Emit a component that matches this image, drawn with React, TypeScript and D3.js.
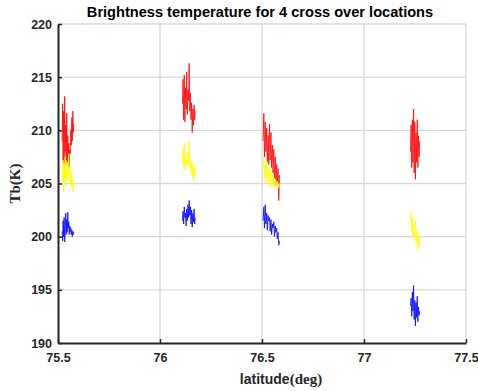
import React, { useEffect, useRef } from 'react';
import * as d3 from 'd3';

// x ticks and y ticks
const xTicks = [75.5, 76, 76.5, 77, 77.5];
const yTicks = [190, 195, 200, 205, 210, 215, 220];

// latitudes of the 4 cross over locations
const lat1 = [75.520, 75.523, 75.525, 75.528, 75.530, 75.533, 75.535, 75.538, 75.540, 75.543, 75.545, 75.548,
  75.550, 75.553, 75.555, 75.558, 75.560, 75.563, 75.565, 75.568, 75.570, 75.573, 75.575, 75.578];
const lat2 = [76.110, 76.113, 76.116, 76.119, 76.122, 76.125, 76.128, 76.131, 76.134, 76.137, 76.140,
  76.143, 76.146, 76.149, 76.152, 76.155, 76.158, 76.161, 76.164, 76.167, 76.170, 76.173];
const lat3 = [76.505, 76.509, 76.512, 76.516, 76.519, 76.523, 76.526, 76.530, 76.533, 76.537, 76.540, 76.544,
  76.547, 76.551, 76.554, 76.558, 76.561, 76.565, 76.568, 76.572, 76.575, 76.579, 76.582, 76.586];
const lat4 = [77.228, 77.231, 77.234, 77.237, 77.240, 77.243, 77.246, 77.249, 77.252, 77.255, 77.258,
  77.261, 77.264, 77.267, 77.270, 77.273];

// red channel
const red1 = [209, 212.5, 207, 211.8, 206.5, 213.2, 208, 210.5, 207.2, 211.6, 206.8, 209.5, 207.5, 208.8,
  206.5, 208.2, 207.8, 210, 208.6, 211.2, 209, 211.8, 209.8, 210.6];
const red2 = [212.5, 214.8, 211, 215.2, 210.8, 214, 212, 215.5, 211.5, 213.8, 212.8, 216.3, 211.8, 213.5,
  211, 212.6, 209.8, 212, 210.5, 212.4, 211, 211.8];
const red3 = [209, 211.6, 207.5, 210.8, 208, 210.2, 207, 209.5, 206.8, 210.6, 207.2, 209.8, 206.5, 208.6,
  206, 208.2, 205.5, 207.5, 204.8, 206.8, 205.2, 206.4, 203.4, 205.8];
const red4 = [208, 210.5, 206.5, 211, 207, 212, 206, 210.8, 205.4, 209.8, 207, 211, 206.5, 209.5, 207.5, 209];

// yellow channel
const yel1 = [206.5, 205, 207.2, 204.3, 206.8, 205.5, 207.5, 204.8, 206.2, 205.6, 207, 205.2, 206.4, 207.8,
  205.8, 206.6, 205, 206.2, 204.8, 205.8, 204.6, 205.4, 204.2, 205];
const yel2 = [207, 208.4, 206.5, 208.8, 206.2, 207.6, 206.8, 207.2, 206.6, 208, 207, 209, 206.5, 207.4,
  206, 206.8, 205.6, 207, 205.2, 206.5, 205.6, 206.4];
const yel3 = [206.5, 207.4, 205.5, 206.8, 205, 207.2, 205.6, 206.4, 204.8, 206.5, 205.2, 206.2, 204.6, 205.8,
  205, 205.6, 204.4, 205.4, 204.8, 205.2, 204.5, 205, 204.6, 205];
const yel4 = [201.5, 202.3, 200.5, 201.8, 200, 201.2, 199.8, 200.8, 201.5, 199.5, 200.6, 198.8, 200.2, 199.2,
  199.8, 199];

// blue channel
const blu1 = [200.5, 199.6, 201.5, 200, 201.8, 199.5, 200.8, 202.2, 200.2, 201.6, 200.4, 202.3, 200.8, 201.4,
  200.2, 201, 200.5, 200.8, 200.2, 200.6, 200, 200.5, 200.2, 200.4];
const blu2 = [201.5, 202.4, 201.2, 202.8, 201.8, 202.2, 201, 202.6, 201.5, 203, 201.8, 203.4, 202, 202.8,
  201.2, 202.5, 200.9, 202.2, 201.4, 202.6, 201.2, 201.8];
const blu3 = [201.5, 202.8, 200.8, 203, 201.2, 202.2, 200.6, 202, 201.5, 201.8, 200.5, 201.6, 200.2, 201.2,
  200.8, 201.4, 200, 201, 200.4, 200.8, 199.8, 200.4, 199.2, 199.6];
const blu4 = [193.5, 194.2, 192.5, 194.8, 193, 195.4, 192.2, 194, 191.6, 193.8, 192.4, 194.4, 192, 193.4,
  192.6, 193];

const lats = [lat1, lat2, lat3, lat4];
const series = [
  { color: '#ff0000', vals: [red1, red2, red3, red4] },
  { color: '#ffff00', vals: [yel1, yel2, yel3, yel4] },
  { color: '#0000ff', vals: [blu1, blu2, blu3, blu4] },
];

export default function App() {
  const svgRef = useRef<SVGSVGElement>(null);

  useEffect(() => {
    const svg = d3.select(svgRef.current);
    svg.selectAll('*').remove();

    const width = 478, height = 391;
    const margin = { left: 58, right: 12, top: 24, bottom: 48 };

    const x = d3.scaleLinear().domain([75.5, 77.5]).range([margin.left, width - margin.right]);
    const y = d3.scaleLinear().domain([190, 220]).range([height - margin.bottom, margin.top]);

    // grid
    const grid = svg.append('g');
    grid.selectAll('line.gx').data(xTicks.slice(1)).enter().append('line')
      .attr('x1', d => x(d)).attr('x2', d => x(d))
      .attr('y1', y(190)).attr('y2', y(220))
      .attr('stroke', '#d9d9d9').attr('stroke-width', 1.3);
    grid.selectAll('line.gy').data(yTicks.slice(1)).enter().append('line')
      .attr('x1', x(75.5)).attr('x2', x(77.5))
      .attr('y1', d => y(d)).attr('y2', d => y(d))
      .attr('stroke', '#d9d9d9').attr('stroke-width', 1.3);

    // data lines
    const line = d3.line<[number, number]>().x(d => x(d[0])).y(d => y(d[1]));
    series.forEach(s => {
      s.vals.forEach((v, i) => {
        const pts: [number, number][] = v.map((val, j) => [lats[i][j], val]);
        svg.append('path')
          .attr('d', line(pts))
          .attr('fill', 'none')
          .attr('stroke', s.color)
          .attr('stroke-width', 0.8);
      });
    });

    // axes
    const font = 'Liberation Sans, Arial, sans-serif';
    const xAxis = svg.append('g').attr('transform', `translate(0,${y(190)})`)
      .call(d3.axisBottom(x).tickValues(xTicks).tickSize(-4).tickSizeOuter(0).tickFormat(d => String(d)));
    const yAxis = svg.append('g').attr('transform', `translate(${x(75.5)},0)`)
      .call(d3.axisLeft(y).tickValues(yTicks).tickSize(-4).tickSizeOuter(0).tickFormat(d => String(d)));
    [xAxis, yAxis].forEach(a => {
      a.select('.domain').attr('stroke', '#262626').attr('stroke-width', 2);
      a.selectAll('.tick line').attr('stroke', '#262626').attr('stroke-width', 1.5);
      a.selectAll('.tick text').attr('fill', '#262626')
        .style('font-family', font).style('font-size', '12.5px').style('font-weight', 'bold');
    });
    xAxis.selectAll('.tick text').attr('dy', '1.05em').attr('y', 6);
    yAxis.selectAll('.tick text').attr('x', -6);

    // title
    svg.append('text')
      .attr('x', 260).attr('y', 17)
      .attr('text-anchor', 'middle')
      .style('font-family', font).style('font-size', '14.6px').style('font-weight', 'bold')
      .attr('fill', '#000')
      .text('Brightness temperature for 4 cross over locations');

    // x label
    const xl = svg.append('text')
      .attr('x', 281).attr('y', 384)
      .attr('text-anchor', 'middle')
      .style('font-size', '14px').style('font-weight', 'bold')
      .attr('fill', '#262626');
    xl.append('tspan').style('font-family', font).text('latitude');
    xl.append('tspan').style('font-family', 'Liberation Serif, serif').style('font-size', '15px').text('(deg)');

    // y label
    svg.append('text')
      .attr('transform', `translate(20,${(y(190) + y(220)) / 2 + 0}) rotate(-90)`)
      .attr('text-anchor', 'middle')
      .style('font-family', 'Liberation Serif, serif').style('font-size', '15px').style('font-weight', 'bold')
      .attr('fill', '#262626')
      .text('Tb(K)');
  }, []);

  return (
    <svg ref={svgRef} width={478} height={391}
      style={{ position: 'absolute', left: 0, top: 0, background: '#fff' }} />
  );
}
